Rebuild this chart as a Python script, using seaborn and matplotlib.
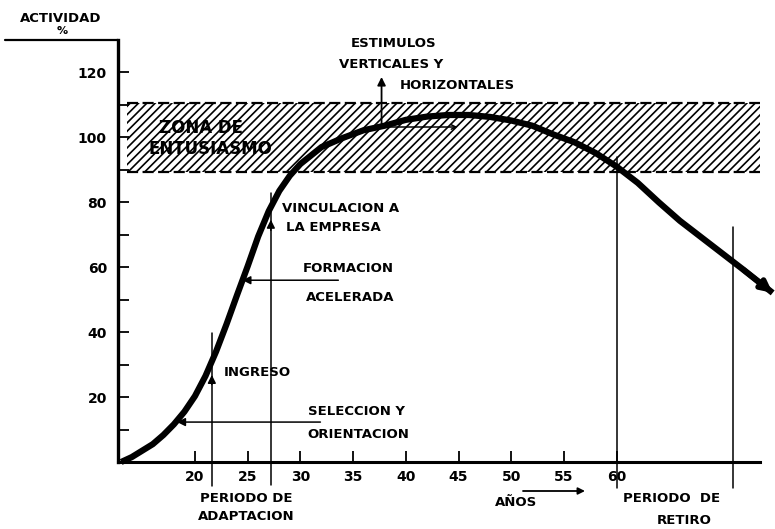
import matplotlib
matplotlib.use('Agg')
import matplotlib.pyplot as plt
import seaborn as sns
import pandas as pd

# curva de actividad
anos = [13, 14, 15, 16, 17, 18, 19, 20, 21, 22, 23, 24, 25, 26, 27, 28, 29, 30,
        32, 34, 36, 38, 40, 42, 44, 46, 48, 50, 52, 54, 56, 58, 60, 62, 64, 66,
        68, 70, 72, 74.8]
actividad = [0, 1.5, 3.5, 5.5, 8.3, 11.6, 15.5, 20.3, 26.5, 34.0, 42.5, 51.5, 60.3,
             69.5, 77.3, 83.5, 88.2, 91.8, 97.0, 99.8, 102.2, 103.6, 105.4, 106.4,
             106.9, 106.9, 106.3, 105.2, 103.6, 100.9, 98.5, 95.2, 91.0, 86.0, 80.0,
             74.3, 69.3, 64.3, 59.3, 52.1]
xTicks = [20, 25, 30, 35, 40, 45, 50, 55, 60]
yTicks = [20, 40, 60, 80, 100, 120]
yMinor = [10, 30, 50, 70, 90, 110]
zonaInferior, zonaSuperior = 89.3, 110.6
zonaInicio, zonaFin = 13.6, 73.6
ingreso = 21.6
vinculacion = 27.2
inicioRetiro = 60
finRetiro = 71
seleccion = (18.3, 12.3)
formacion = (24.5, 56.0)
estimulos = (37.7, 103.2)

df = pd.DataFrame({'Anos': anos, 'Actividad': actividad})

sns.set_style('ticks')
plt.rcParams['font.family'] = ['DejaVu Sans']
plt.rcParams['font.weight'] = 'bold'
plt.rcParams['hatch.linewidth'] = 1.2
for k in ['text.color', 'xtick.color', 'ytick.color', 'axes.edgecolor', 'axes.labelcolor']:
    plt.rcParams[k] = 'black'

fig = plt.figure(figsize=(7.75, 5.29), dpi=100)
ax = fig.add_axes([118 / 775, 67 / 529, 642 / 775, 422 / 529])
ax.set_xlim(12.7, 73.6)
ax.set_ylim(0, 130)

# zona de entusiasmo
ax.fill_between([zonaInicio, zonaFin], zonaInferior, zonaSuperior, facecolor='none',
                edgecolor='black', hatch='////', linewidth=0)
ax.hlines([zonaInferior, zonaSuperior], zonaInicio, zonaFin, colors='black',
          linewidth=1.6, linestyles=(0, (5, 2)))
ax.text(20.6, 103.0, 'ZONA DE', fontsize=12, ha='center', va='center')
ax.text(21.5, 96.5, 'ENTUSIASMO', fontsize=12, ha='center', va='center')

# lineas verticales
ax.plot([ingreso, ingreso], [-7.5, 39.7], color='black', lw=1.1, clip_on=False)
ax.plot([vinculacion, vinculacion], [-7.0, 82.9], color='black', lw=1.1, clip_on=False)
ax.plot([inicioRetiro, inicioRetiro], [-8.0, 94.0], color='black', lw=1.1, clip_on=False)
ax.plot([finRetiro, finRetiro], [-8.0, 72.4], color='black', lw=1.1, clip_on=False)
ax.annotate('', xy=(ingreso, 27.7), xytext=(ingreso, 23.0),
            arrowprops=dict(arrowstyle='-|>', color='black', lw=1.1, mutation_scale=12))
ax.annotate('', xy=(vinculacion, 75.5), xytext=(vinculacion, 70.5),
            arrowprops=dict(arrowstyle='-|>', color='black', lw=1.1, mutation_scale=12))

# curva
sns.lineplot(data=df, x='Anos', y='Actividad', sort=False, estimator=None, color='black',
             lw=4.5, ax=ax, clip_on=False, solid_capstyle='butt', solid_joinstyle='round')
ax.annotate('', xy=(anos[-1], actividad[-1]), xytext=(anos[-2], actividad[-2]),
            arrowprops=dict(arrowstyle='-|>', color='black', lw=4.0, mutation_scale=16,
                            shrinkA=0, shrinkB=0), annotation_clip=False)

# flechas de anotacion
ax.annotate('', xy=seleccion, xytext=(31.9, seleccion[1]),
            arrowprops=dict(arrowstyle='-|>', color='black', lw=1.1, mutation_scale=12, shrinkA=0, shrinkB=0))
ax.annotate('', xy=formacion, xytext=(33.6, formacion[1]),
            arrowprops=dict(arrowstyle='-|>', color='black', lw=1.1, mutation_scale=12, shrinkA=0, shrinkB=0))
ax.annotate('', xy=(estimulos[0], 118.6), xytext=estimulos,
            arrowprops=dict(arrowstyle='-|>', color='black', lw=1.3, mutation_scale=12, shrinkA=0, shrinkB=0))
ax.annotate('', xy=(44.9, estimulos[1]), xytext=estimulos,
            arrowprops=dict(arrowstyle='->', color='black', lw=1.1, mutation_scale=8, shrinkA=0, shrinkB=0))

labelKw = dict(fontsize=9.5, va='center')
ax.text(38.8, 128.8, 'ESTIMULOS', ha='center', **labelKw)
ax.text(38.6, 122.3, 'VERTICALES Y', ha='center', **labelKw)
ax.text(44.9, 116.1, 'HORIZONTALES', ha='center', **labelKw)
ax.text(28.3, 78.2, 'VINCULACION A', ha='left', **labelKw)
ax.text(28.6, 72.2, 'LA EMPRESA', ha='left', **labelKw)
ax.text(34.5, 59.5, 'FORMACION', ha='center', **labelKw)
ax.text(34.7, 50.8, 'ACELERADA', ha='center', **labelKw)
ax.text(22.7, 27.7, 'INGRESO', ha='left', **labelKw)
ax.text(30.7, 15.7, 'SELECCION Y', ha='left', **labelKw)
ax.text(30.7, 8.6, 'ORIENTACION', ha='left', **labelKw)

# ejes
ax.set_xticks(xTicks)
ax.set_yticks(yTicks)
ax.set_yticks(yMinor, minor=True)
ax.tick_params(axis='both', which='both', direction='in', length=8, width=1.3, labelsize=10)
ax.tick_params(axis='x', pad=6)
ax.tick_params(axis='y', pad=8)
ax.set_xlabel('')
ax.set_ylabel('')
sns.despine(ax=ax)
ax.spines['left'].set_linewidth(2.4)
ax.spines['bottom'].set_linewidth(2.2)
ax.plot([2.0, 12.7], [130, 130], color='black', lw=1.6, clip_on=False)

fig.text(61 / 775, 1 - 18 / 529, 'ACTIVIDAD', fontsize=9.5, ha='center', va='center')
fig.text(62 / 775, 1 - 31 / 529, '%', fontsize=8, ha='center', va='center')
fig.text(246 / 775, 1 - 498 / 529, 'PERIODO DE', fontsize=9.5, ha='center', va='center')
fig.text(246 / 775, 1 - 517 / 529, 'ADAPTACION', fontsize=9.5, ha='center', va='center')
fig.text(516 / 775, 1 - 503 / 529, 'AÑOS', fontsize=9.5, ha='center', va='center')
fig.text(672 / 775, 1 - 499 / 529, 'PERIODO  DE', fontsize=9.5, ha='center', va='center')
fig.text(684 / 775, 1 - 521 / 529, 'RETIRO', fontsize=9.5, ha='center', va='center')
ax.annotate('', xy=(585, 529 - 491), xytext=(523, 529 - 491), xycoords='figure pixels',
            arrowprops=dict(arrowstyle='-|>', color='black', lw=1.3, mutation_scale=10, shrinkA=0, shrinkB=0))

fig.savefig('out.png', dpi=100)
